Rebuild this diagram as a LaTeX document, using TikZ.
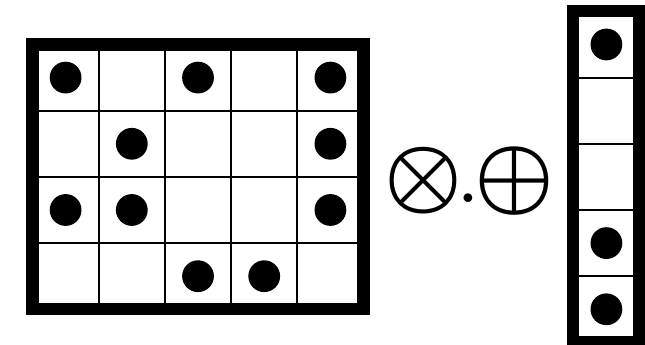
\documentclass[tikz,border=0pt]{standalone}
\usepackage{amsmath,amssymb}
\usepackage{tikz}
\usetikzlibrary{positioning}

\begin{document}
\begin{tikzpicture}[
    x=1cm, y=1cm,
    frame/.style={
      line width=5.2pt
    },
    cellgrid/.style={
      line width=0.9pt
    },
    bead/.style={
      circle,
      fill=black,
      minimum size=0.48cm,
      inner sep=0pt
    },
    opsymbol/.style={
      inner sep=0pt
    }
  ]
  \useasboundingbox (0,0) rectangle (9.743,-5.211);

  % the 4x5 matrix
  \begin{scope}[shift={(0.491,-4.672)}]
    \draw[cellgrid] (0,0) grid (5,4);
    \draw[frame] (0,0) rectangle (5,4);
    \node[bead] (m11) at (0.5,3.5) {};
    \node[bead] (m13) at (2.5,3.5) {};
    \node[bead] (m15) at (4.5,3.5) {};
    \node[bead] (m22) at (1.5,2.5) {};
    \node[bead] (m25) at (4.5,2.5) {};
    \node[bead] (m31) at (0.5,1.5) {};
    \node[bead] (m32) at (1.5,1.5) {};
    \node[bead] (m35) at (4.5,1.5) {};
    \node[bead] (m43) at (2.5,0.5) {};
    \node[bead] (m44) at (3.5,0.5) {};
  \end{scope}

  % the operator
  \node[opsymbol] (mul) at (6.394,-2.734) {\scalebox{3.75}{$\boldsymbol{\otimes}$}};
  \node[opsymbol] (sep) at (7.074,-2.995) {\scalebox{2.4}{\bfseries .}};
  \node[opsymbol] (add) at (7.779,-2.734) {\scalebox{3.85}{$\boldsymbol{\oplus}$}};

  % the vector
  \begin{scope}[shift={(8.66,-5.172)}]
    \draw[cellgrid] (0,0) grid (1,5);
    \draw[frame] (0,0) rectangle (1,5);
    \node[bead] (v1) at (0.5,4.5) {};
    \node[bead] (v4) at (0.5,1.5) {};
    \node[bead] (v5) at (0.5,0.5) {};
  \end{scope}
\end{tikzpicture}
\end{document}
